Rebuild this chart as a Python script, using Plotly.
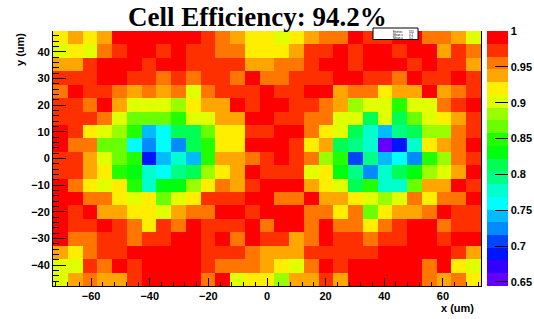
import plotly.graph_objects as go

# ---- data -------------------------------------------------------------
title_text = "Cell Efficiency: 94.2%"
x_title = "x (um)"
y_title = "y (um)"

# bin layout (um)
x_lo, x_hi, nx = -73.0, 73.0, 29
y_lo, y_hi, ny = -47.8, 47.8, 19

# efficiency per cell, rows listed from top (y = +45) to bottom (y = -45)
eff_rows_top_down = [
    [0.92,0.938,0.92,0.938,0.99,0.99,0.99,0.99,0.99,0.99,0.973,0.956,0.938,0.92,0.92,0.902,0.92,0.938,0.956,0.956,0.99,0.973,0.973,0.99,0.99,0.956,0.956,0.938,0.902],
    [0.902,0.92,0.902,0.956,0.973,0.99,0.99,0.973,0.99,0.973,0.973,0.956,0.956,0.92,0.92,0.92,0.938,0.973,0.973,0.99,0.973,0.99,0.99,0.973,0.99,0.99,0.938,0.973,0.956],
    [0.938,0.938,0.973,0.99,0.99,0.99,0.973,0.99,0.99,0.973,0.973,0.973,0.973,0.938,0.938,0.956,0.956,0.973,0.99,0.99,0.973,0.99,0.99,0.99,0.973,0.99,0.973,0.973,0.938],
    [0.973,0.973,0.973,0.99,0.99,0.973,0.973,0.956,0.973,0.956,0.973,0.973,0.956,0.99,0.956,0.956,0.973,0.973,0.973,0.99,0.99,0.973,0.973,0.956,0.99,0.973,0.973,0.99,0.973],
    [0.956,0.99,0.973,0.973,0.956,0.938,0.956,0.938,0.956,0.902,0.956,0.973,0.973,0.973,0.99,0.973,0.973,0.99,0.99,0.938,0.956,0.956,0.92,0.938,0.938,0.99,0.938,0.956,0.973],
    [0.973,0.973,0.956,0.99,0.938,0.902,0.902,0.902,0.884,0.92,0.938,0.938,0.99,0.973,0.99,0.99,0.973,0.973,0.956,0.938,0.884,0.902,0.902,0.849,0.902,0.902,0.956,0.973,0.99],
    [0.973,0.973,0.973,0.956,0.902,0.867,0.867,0.867,0.849,0.902,0.902,0.938,0.938,0.99,0.99,0.973,0.973,0.956,0.956,0.902,0.902,0.813,0.902,0.813,0.867,0.902,0.92,0.938,0.973],
    [0.99,0.973,0.92,0.902,0.884,0.849,0.742,0.76,0.813,0.813,0.867,0.92,0.92,0.973,0.973,0.99,0.99,0.956,0.92,0.902,0.813,0.778,0.742,0.796,0.813,0.884,0.884,0.956,0.973],
    [0.99,0.956,0.956,0.867,0.867,0.76,0.724,0.76,0.724,0.813,0.849,0.92,0.92,0.99,0.99,0.99,0.973,0.92,0.938,0.813,0.796,0.778,0.645,0.689,0.778,0.92,0.938,0.956,0.99],
    [0.973,0.973,0.938,0.902,0.867,0.849,0.689,0.742,0.778,0.742,0.849,0.938,0.938,0.956,0.973,0.99,0.973,0.956,0.884,0.849,0.707,0.796,0.742,0.76,0.724,0.849,0.884,0.956,0.973],
    [0.973,0.973,0.938,0.92,0.849,0.831,0.778,0.76,0.796,0.813,0.884,0.92,0.938,0.99,0.973,0.973,0.973,0.902,0.92,0.831,0.796,0.724,0.778,0.813,0.831,0.884,0.902,0.938,0.99],
    [0.99,0.956,0.92,0.902,0.92,0.849,0.778,0.831,0.831,0.884,0.92,0.956,0.938,0.973,0.99,0.99,0.99,0.938,0.92,0.902,0.813,0.849,0.778,0.778,0.867,0.938,0.938,0.99,0.973],
    [0.99,0.99,0.956,0.956,0.92,0.902,0.92,0.867,0.902,0.92,0.973,0.973,0.973,0.99,0.99,0.956,0.956,0.99,0.938,0.938,0.92,0.902,0.884,0.902,0.956,0.92,0.956,0.956,0.99],
    [0.99,0.973,0.99,0.938,0.938,0.92,0.92,0.902,0.938,0.956,0.956,0.99,0.99,0.973,0.99,0.99,0.99,0.956,0.956,0.92,0.956,0.867,0.92,0.938,0.938,0.956,0.99,0.973,0.973],
    [0.99,0.973,0.973,0.99,0.973,0.956,0.92,0.973,0.956,0.99,0.973,0.973,0.973,0.99,0.956,0.99,0.99,0.956,0.99,0.956,0.956,0.92,0.956,0.973,0.99,0.99,0.956,0.973,0.973],
    [0.99,0.956,0.956,0.973,0.973,0.956,0.973,0.973,0.99,0.99,0.973,0.99,0.956,0.99,0.973,0.973,0.938,0.956,0.99,0.973,0.973,0.956,0.973,0.973,0.99,0.99,0.973,0.99,0.99],
    [0.938,0.92,0.956,0.973,0.973,0.99,0.99,0.99,0.99,0.99,0.973,0.973,0.973,0.956,0.938,0.938,0.938,0.973,0.973,0.973,0.973,0.973,0.99,0.99,0.99,0.99,0.99,0.973,0.938],
    [0.902,0.902,0.973,0.956,0.99,0.973,0.99,0.99,0.99,0.99,0.973,0.956,0.956,0.956,0.938,0.92,0.902,0.956,0.99,0.973,0.99,0.99,0.99,0.99,0.99,0.956,0.99,0.92,0.902],
    [0.902,0.938,0.956,0.938,0.938,0.973,0.99,0.99,0.99,0.99,0.956,0.99,0.902,0.92,0.92,0.884,0.938,0.938,0.973,0.938,0.99,0.99,0.99,0.99,0.99,0.956,0.938,0.956,0.92],
]

z_min, z_max = 0.6444, 1.0

# 20-level palette (ROOT "pretty" palette sampled at 20 contours), low -> high
palette = ["#6300FF", "#3300FF", "#0014FF", "#0044FF", "#008BFF",
           "#00BBFF", "#00FFFC", "#00FFCC", "#00FF85", "#00FF55",
           "#00FF0E", "#22FF00", "#69FF00", "#99FF00", "#E0FF00",
           "#FFEE00", "#FFA700", "#FF7700", "#FF3000", "#FF0000"]

cbar_tickvals = [0.65, 0.7, 0.75, 0.8, 0.85, 0.9, 0.95, 1.0]
cbar_ticktext = ["0.65", "0.7", "0.75", "0.8", "0.85", "0.9", "0.95", "1"]

stats_labels = ["Entries", "Mean x", "Mean y"]
stats_values = ["551", "0.1", "0.2"]

# ---- figure -----------------------------------------------------------
n = len(palette)
colorscale = []
for k, c in enumerate(palette):
    colorscale.append([k / n, c])
    colorscale.append([(k + 1) / n, c])

z = eff_rows_top_down[::-1]
dx = (x_hi - x_lo) / nx
dy = (y_hi - y_lo) / ny

W, H = 534, 319
L, R, T, B = 53, 53, 31, 33
pw, ph = W - L - R, H - T - B


def px_x(p):
    return (p - L) / pw


def px_y(p):
    return (H - B - p) / ph


bold11 = dict(family="Liberation Sans", size=11, color="black", weight="bold")

fig = go.Figure(go.Heatmap(
    z=z, x0=x_lo + dx / 2, dx=dx, y0=y_lo + dy / 2, dy=dy,
    zmin=z_min, zmax=z_max, colorscale=colorscale, hoverinfo="skip",
    colorbar=dict(
        x=px_x(486.7), xanchor="left", xpad=0, ypad=0,
        y=0.5, yanchor="middle", len=1, lenmode="fraction",
        thickness=21, thicknessmode="pixels", outlinewidth=0,
        ticks="inside", ticklen=13, tickwidth=1, tickcolor="black",
        tickvals=cbar_tickvals, ticktext=cbar_ticktext, tickfont=bold11,
    ),
))

fig.update_layout(
    width=W, height=H,
    margin=dict(l=L, r=R, t=T, b=B, pad=0, autoexpand=False),
    paper_bgcolor="white", plot_bgcolor="white",
    font=dict(family="Liberation Sans", color="black"),
    xaxis=dict(range=[x_lo, x_hi], showgrid=False, zeroline=False,
               showline=True, linecolor="black", linewidth=1, mirror=False,
               ticks="inside", ticklen=8, tickwidth=1, tickcolor="black",
               tick0=0, dtick=20, tickfont=bold11, automargin=False,
               minor=dict(tick0=0, dtick=4, ticks="inside", ticklen=4,
                          tickwidth=1, tickcolor="black")),
    yaxis=dict(range=[y_lo, y_hi], showgrid=False, zeroline=False,
               showline=True, linecolor="black", linewidth=1, mirror=True,
               ticks="inside", ticklen=13, tickwidth=1, tickcolor="black",
               tick0=0, dtick=10, tickfont=bold11, automargin=False,
               minor=dict(tick0=0, dtick=2, ticks="inside", ticklen=6,
                          tickwidth=1, tickcolor="black")),
    showlegend=False,
)

# title
fig.add_annotation(text=title_text, xref="paper", yref="paper",
                   x=px_x(257), y=px_y(17.5), xanchor="center", yanchor="middle",
                   showarrow=False,
                   font=dict(family="Liberation Serif", size=27, color="black",
                             weight="bold"))
# axis titles
fig.add_annotation(text=x_title, xref="paper", yref="paper",
                   x=px_x(476), y=px_y(307.5), xanchor="right", yanchor="middle",
                   showarrow=False, font=bold11)
fig.add_annotation(text=y_title, xref="paper", yref="paper", textangle=-90,
                   x=px_x(20), y=px_y(50), xanchor="center", yanchor="middle",
                   showarrow=False, font=bold11)

# small stats box (top of plot)
fig.add_shape(type="rect", xref="paper", yref="paper", layer="above",
              x0=px_x(373), x1=px_x(418), y0=px_y(39.5), y1=px_y(28),
              fillcolor="white", line=dict(color="black", width=1))
for i, (lab, val) in enumerate(zip(stats_labels, stats_values)):
    yy = px_y(32 + i * 3)
    fig.add_annotation(text=lab, xref="paper", yref="paper", x=px_x(391),
                       y=yy, xanchor="left", yanchor="middle", showarrow=False,
                       font=dict(size=3, color="black"))
    fig.add_annotation(text=val, xref="paper", yref="paper", x=px_x(416),
                       y=yy, xanchor="right", yanchor="middle", showarrow=False,
                       font=dict(size=3, color="black"))

fig.write_html("out.html", config={"displayModeBar": False},
               post_script="document.body.style.margin='0';")
